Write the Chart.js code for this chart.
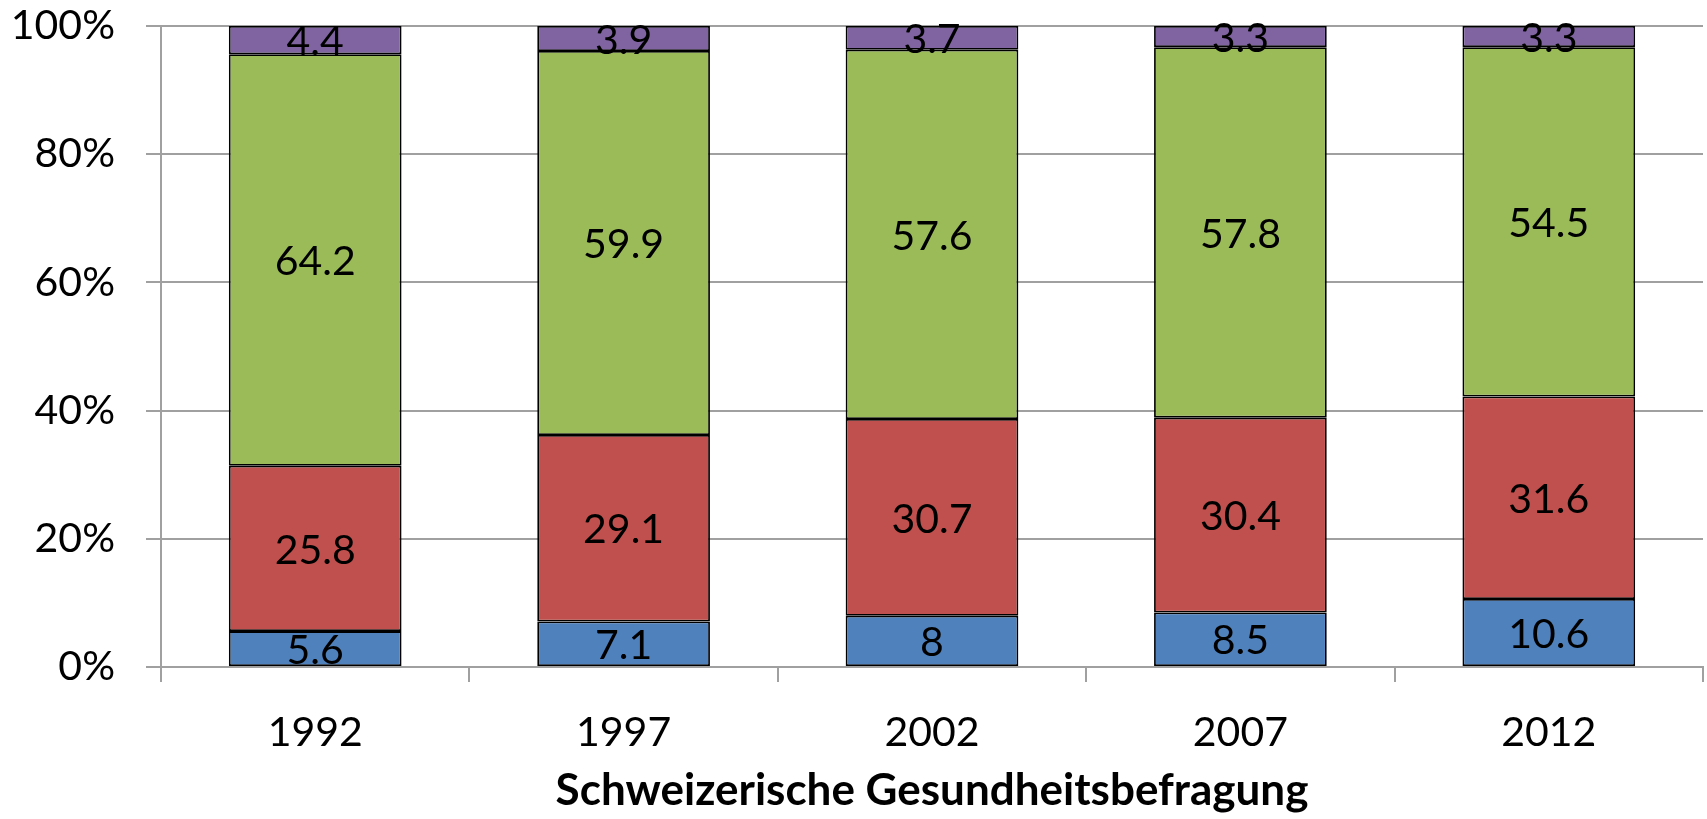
<!DOCTYPE html>
<html lang="de">
<head>
    <meta charset="UTF-8">
    <title>Schweizerische Gesundheitsbefragung</title>
    <script src="https://cdn.jsdelivr.net/npm/chart.js"></script>
    <style>
        html, body { margin: 0; padding: 0; background: #fff; }
        #wrap { width: 1707px; height: 819px; }
    </style>
</head>
<body>
    <div id="wrap">
        <canvas id="chart" width="1707" height="819"></canvas>
    </div>

    <script>
        // data (percent of respondents per survey year)
        const years = ['1992', '1997', '2002', '2007', '2012'];
        const seriesBlue = [5.6, 7.1, 8, 8.5, 10.6];
        const seriesRed = [25.8, 29.1, 30.7, 30.4, 31.6];
        const seriesGreen = [64.2, 59.9, 57.6, 57.8, 54.5];
        const seriesPurple = [4.4, 3.9, 3.7, 3.3, 3.3];
        const yTicks = [0, 20, 40, 60, 80, 100];

        const FONT = 'Lato, "Open Sans", sans-serif';
        const gridColor = '#a0a0a0';

        // draws the value in the middle of every bar segment
        const segmentLabels = {
            id: 'segmentLabels',
            afterDatasetsDraw(chart) {
                const ctx = chart.ctx;
                ctx.save();
                ctx.font = '41px ' + FONT;
                ctx.fillStyle = '#000';
                ctx.textAlign = 'center';
                ctx.textBaseline = 'middle';
                chart.data.datasets.forEach((ds, i) => {
                    const meta = chart.getDatasetMeta(i);
                    meta.data.forEach((bar, j) => {
                        const p = bar.getCenterPoint();
                        ctx.fillText(String(ds.data[j]), p.x, p.y + 2);
                    });
                });
                ctx.restore();
            }
        };

        function makeSet(label, data, color) {
            return {
                label: label,
                data: data,
                backgroundColor: color,
                borderColor: '#000',
                borderWidth: 1.8,
                borderSkipped: false,
                barPercentage: 0.56,
                categoryPercentage: 1.0
            };
        }

        new Chart(document.getElementById('chart').getContext('2d'), {
            type: 'bar',
            data: {
                labels: years,
                datasets: [
                    makeSet('a', seriesBlue, '#4f81bd'),
                    makeSet('b', seriesRed, '#c0504d'),
                    makeSet('c', seriesGreen, '#9bbb59'),
                    makeSet('d', seriesPurple, '#8064a2')
                ]
            },
            options: {
                responsive: false,
                animation: false,
                layout: { padding: { left: 0, right: 4, top: 26, bottom: 0 } },
                plugins: {
                    legend: { display: false },
                    tooltip: { enabled: false }
                },
                scales: {
                    x: {
                        stacked: true,
                        afterFit(scale) { scale.height = 152; },
                        grid: {
                            offset: true,
                            drawOnChartArea: false,
                            color: gridColor,
                            lineWidth: 2,
                            tickLength: 15
                        },
                        border: { color: gridColor, width: 2 },
                        ticks: {
                            color: '#000',
                            font: { family: FONT, size: 41 },
                            padding: 26
                        },
                        title: {
                            display: true,
                            text: 'Schweizerische Gesundheitsbefragung',
                            color: '#000',
                            font: { family: FONT, size: 44, weight: 'bold' },
                            padding: { top: 0, bottom: 2 }
                        }
                    },
                    y: {
                        stacked: true,
                        min: 0,
                        max: 100,
                        afterFit(scale) {
                            scale.width = 161;
                            // labels sit in the layout padding, no extra room needed
                            scale.paddingTop = 0;
                            scale.paddingBottom = 0;
                        },
                        afterBuildTicks(scale) {
                            scale.ticks = yTicks.map(v => ({ value: v }));
                        },
                        grid: {
                            color: gridColor,
                            lineWidth: 2,
                            tickLength: 15
                        },
                        border: { color: gridColor, width: 2 },
                        ticks: {
                            color: '#000',
                            font: { family: FONT, size: 41 },
                            padding: 31,
                            callback: v => v + '%'
                        }
                    }
                }
            },
            plugins: [segmentLabels]
        });
    </script>
</body>
</html>
